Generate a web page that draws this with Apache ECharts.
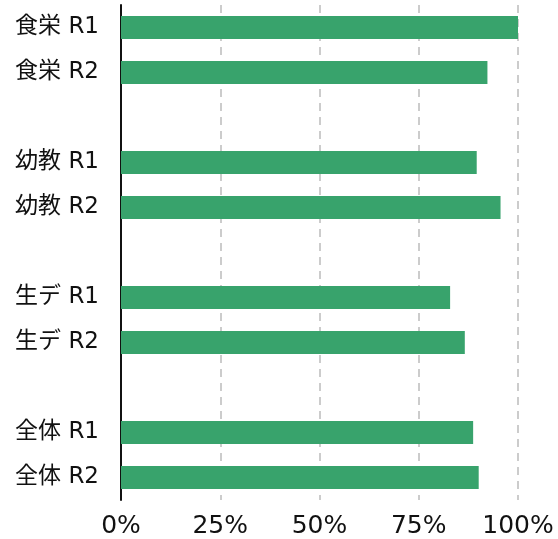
<!DOCTYPE html>
<html>
<head>
<meta charset="utf-8">
<script src="https://cdn.jsdelivr.net/npm/echarts@6/dist/echarts.min.js"></script>
<style>
html,body{margin:0;padding:0;background:#fff;}
#chart{width:558px;height:539px;}
</style>
</head>
<body>
<div id="chart"></div>
<script>
var categories = ['食栄 R1', '食栄 R2', '', '幼教 R1', '幼教 R2', '', '生デ R1', '生デ R2', '', '全体 R1', '全体 R2'];
var values = [100, 92.3, null, 89.6, 95.6, null, 82.9, 86.6, null, 88.7, 90.1];
var xTicks = [0, 25, 50, 75, 100];

var chart = echarts.init(document.getElementById('chart'));
chart.setOption({
  animation: false,
  grid: {left: 121, right: 40, top: 5, bottom: 37, containLabel: false},
  xAxis: {
    type: 'value',
    min: xTicks[0],
    max: xTicks[xTicks.length - 1],
    interval: 25,
    axisLine: {show: false},
    axisTick: {show: false},
    axisLabel: {
      formatter: '{value}%',
      fontFamily: '"DejaVu Sans", "Noto Sans CJK JP", sans-serif',
      fontSize: 25,
      color: '#111',
      margin: 14
    },
    splitLine: {show: true, lineStyle: {color: '#cccccc', width: 2, type: [8, 6]}}
  },
  yAxis: {
    type: 'category',
    inverse: true,
    data: categories,
    axisLine: {show: true, lineStyle: {color: '#111', width: 2}},
    axisTick: {show: false},
    axisLabel: {
      fontFamily: '"DejaVu Sans", "Noto Sans CJK JP", sans-serif',
      fontSize: 23,
      color: '#111',
      margin: 22
    },
    splitLine: {show: false}
  },
  series: [{
    type: 'bar',
    data: values,
    barWidth: 23,
    itemStyle: {color: '#38a36c'}
  }]
});
</script>
</body>
</html>
